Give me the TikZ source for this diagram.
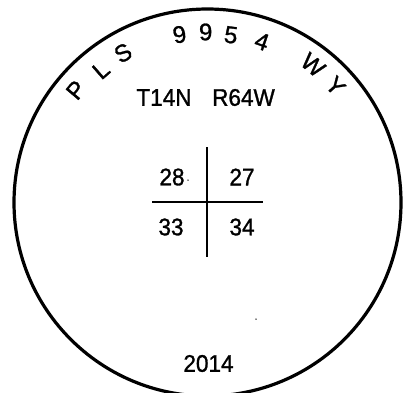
\documentclass[tikz,border=0pt]{standalone}
\usepackage{fontspec}
\setmainfont{Liberation Sans}[FakeBold=1.2]
\begin{document}
\begin{tikzpicture}[x=1pt,y=-1pt,
  lbl/.style={inner sep=0pt, font=\fontsize{24}{28}\selectfont, xscale=0.94},
  arcl/.style={inner sep=0pt, font=\fontsize{24}{28}\selectfont},
  gridline/.style={line width=2pt},
  speck/.style={fill=black, inner sep=0pt, minimum size=1.5pt, circle}]
\useasboundingbox (0,0) rectangle (412,392);
\coordinate (c) at (207.5,202.5);
\draw[line width=3.2pt] (c) circle[radius=193.5pt];
% arc letters
\node[arcl, rotate=50] (p) at (76,90) {P};
\node[arcl, rotate=41] (l) at (101,70) {L};
\node[arcl, rotate=30] (s) at (123,53) {S};
\node[arcl, rotate=10] (n1) at (179.5,34.5) {9};
\node[arcl, rotate=1] (n2) at (205.7,32) {9};
\node[arcl, rotate=-8] (n3) at (231,35) {5};
\node[arcl, rotate=-19] (n4) at (262,41.5) {4};
\node[arcl, rotate=-40] (w) at (313,65) {W};
\node[arcl, rotate=-48] (y) at (335.5,86) {Y};
% township
\node[lbl] (t1) at (164,97.5) {T14N};
\node[lbl] (t2) at (243.5,97.5) {R64W};
% grid
\coordinate (vt) at (207,147);
\coordinate (vb) at (207,257);
\coordinate (hl) at (152,202);
\coordinate (hr) at (263,202);
\draw[gridline] (vt) -- (vb);
\draw[gridline] (hl) -- (hr);
\node[lbl] (s28) at (172,177) {28};
\node[lbl] (s27) at (242,177) {27};
\node[lbl] (s33) at (171,227) {33};
\node[lbl] (s34) at (242,227) {34};
\node[lbl] (yr) at (208.5,363.5) {2014};
\node[speck] (d1) at (188,180) {};
\node[speck] (d2) at (256,319) {};
\end{tikzpicture}
\end{document}
